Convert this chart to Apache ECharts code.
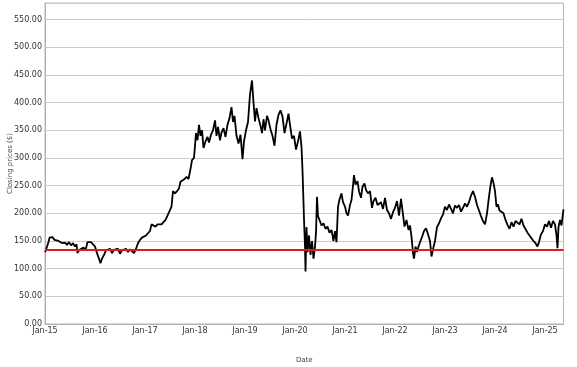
<!DOCTYPE html>
<html>
<head>
<meta charset="utf-8">
<script src="https://cdn.jsdelivr.net/npm/echarts@6/dist/echarts.min.js"></script>
<style>
html,body{margin:0;padding:0;background:#fff;}
#chart{width:577px;height:367px;}
</style>
</head>
<body>
<div id="chart"></div>
<script>
// Dates as decimal years (2015.00 = Jan 2015)
const dateYears = [
2015.00,2015.02,2015.04,2015.07,2015.09,2015.12,2015.15,2015.19,2015.23,2015.27,2015.31,2015.35,2015.40,2015.44,2015.48,2015.52,2015.56,2015.60,2015.63,2015.65,2015.69,2015.73,2015.77,2015.81,2015.85,2015.88,2015.92,2015.96,
2016.00,2016.04,2016.08,2016.11,2016.14,2016.18,2016.22,2016.26,2016.30,2016.34,2016.38,2016.42,2016.46,2016.50,2016.54,2016.58,2016.62,2016.66,2016.70,2016.74,2016.78,2016.82,2016.86,2016.90,2016.94,2016.98,
2017.02,2017.06,2017.10,2017.13,2017.17,2017.21,2017.25,2017.29,2017.33,2017.37,2017.41,2017.45,2017.49,2017.53,2017.56,2017.60,2017.64,2017.68,2017.71,2017.75,2017.79,2017.83,2017.87,2017.91,2017.94,2017.98,
2018.02,2018.05,2018.08,2018.11,2018.14,2018.17,2018.21,2018.25,2018.28,2018.32,2018.36,2018.40,2018.43,2018.46,2018.50,2018.53,2018.57,2018.61,2018.65,2018.69,2018.73,2018.76,2018.79,2018.83,2018.87,2018.91,2018.95,2018.98,
2019.02,2019.06,2019.10,2019.14,2019.17,2019.20,2019.23,2019.27,2019.31,2019.34,2019.37,2019.40,2019.44,2019.47,2019.51,2019.55,2019.59,2019.63,2019.67,2019.71,2019.75,2019.79,2019.83,2019.87,2019.90,2019.94,2019.98,
2020.02,2020.06,2020.10,2020.13,2020.15,2020.18,2020.20,2020.21,2020.23,2020.25,2020.28,2020.31,2020.34,2020.37,2020.40,2020.42,2020.44,2020.46,2020.49,2020.53,2020.57,2020.61,2020.65,2020.69,2020.73,2020.77,2020.80,2020.83,2020.86,2020.89,2020.93,2020.96,
2021.00,2021.03,2021.06,2021.10,2021.13,2021.16,2021.18,2021.21,2021.25,2021.28,2021.32,2021.35,2021.39,2021.42,2021.46,2021.50,2021.54,2021.57,2021.61,2021.65,2021.69,2021.72,2021.76,2021.80,2021.84,2021.88,2021.92,2021.96,
2022.00,2022.04,2022.08,2022.12,2022.15,2022.19,2022.23,2022.27,2022.30,2022.33,2022.36,2022.38,2022.41,2022.44,2022.47,2022.51,2022.55,2022.58,2022.62,2022.66,2022.70,2022.73,2022.76,2022.80,2022.84,2022.88,2022.92,2022.96,
2023.00,2023.04,2023.08,2023.12,2023.16,2023.20,2023.24,2023.28,2023.32,2023.36,2023.40,2023.44,2023.48,2023.52,2023.56,2023.60,2023.64,2023.68,2023.72,2023.76,2023.80,2023.84,2023.88,2023.91,2023.94,2023.97,
2024.00,2024.03,2024.06,2024.09,2024.13,2024.17,2024.21,2024.25,2024.29,2024.33,2024.37,2024.41,2024.45,2024.49,2024.53,2024.57,2024.61,2024.65,2024.69,2024.73,2024.77,2024.81,2024.85,2024.88,2024.92,2024.96,
2025.00,2025.04,2025.08,2025.12,2025.16,2025.20,2025.23,2025.25,2025.27,2025.30,2025.33,2025.36,2025.37
];
const closes = [
130,134,133,148,156,154,157,152,155,150,153,146,147,143,148,142,146,140,144,128,134,131,138,133,148,150,148,147,
140,128,118,110,118,125,133,130,136,128,134,131,136,127,133,131,136,130,135,133,128,136,146,152,156,157,
160,162,168,180,182,176,180,178,180,184,188,196,204,212,240,236,240,245,257,260,262,266,262,280,296,300,
345,332,360,340,350,318,330,338,328,342,350,368,340,356,332,346,354,338,360,372,392,365,376,340,326,342,298,330,
350,365,415,440,400,366,390,372,358,345,370,350,376,368,352,340,322,360,378,386,375,345,362,380,360,335,340,
315,330,348,320,278,190,140,95,175,130,160,125,150,118,140,165,230,195,188,178,182,172,176,165,170,150,168,148,212,225,236,220,
212,200,196,215,224,250,269,252,258,240,228,248,254,242,236,240,210,222,228,215,212,220,208,228,206,200,190,202,
210,222,196,226,205,176,188,170,178,158,128,118,140,130,140,142,160,168,173,162,150,122,135,150,175,182,191,198,
212,206,216,218,200,214,210,215,203,210,218,212,220,232,240,230,215,205,195,186,180,200,230,250,265,255,
240,212,216,205,208,200,188,179,172,184,176,186,188,180,190,178,181,165,160,155,150,146,140,148,162,168,
180,176,186,174,186,180,160,137,175,188,178,200,207
];
const referenceLevel = 135;
const yTickLabels = ['0.00','50.00','100.00','150.00','200.00','250.00','300.00','350.00','400.00','450.00','500.00','550.00'];

const chart = echarts.init(document.getElementById('chart'), null, {renderer:'canvas'});
const font = 'DejaVu Sans';
chart.setOption({
  animation:false,
  backgroundColor:'#ffffff',
  grid:{left:45,right:13.5,top:3,bottom:43,containLabel:false,outerBoundsMode:'none',show:true,borderColor:'#b8b8b8',borderWidth:1,backgroundColor:'transparent'},
  xAxis:{
    type:'value',min:2015,max:2025.37,interval:1,
    name:'Date',nameLocation:'middle',nameGap:33,nameMoveOverlap:false,
    nameTextStyle:{fontFamily:font,fontSize:7,color:'#444'},
    axisLine:{show:true,lineStyle:{color:'#b0b0b0',width:1}},
    axisTick:{show:false},
    splitLine:{show:false},
    axisLabel:{fontFamily:font,fontSize:8,color:'#333',margin:3,showMaxLabel:false,
      formatter:function(v){ if(Math.abs(v-Math.round(v))>1e-6) return ''; return 'Jan-'+String(Math.round(v)).slice(2);} }
  },
  yAxis:{
    type:'value',min:0,max:580,interval:50,
    name:'Closing prices ($)',nameLocation:'middle',nameGap:31,nameRotate:90,nameMoveOverlap:false,
    nameTextStyle:{fontFamily:font,fontSize:7,color:'#444'},
    axisLine:{show:true,lineStyle:{color:'#b0b0b0',width:1}},
    axisTick:{show:false},
    splitLine:{show:true,lineStyle:{color:'#cccccc',width:1}},
    axisLabel:{fontFamily:font,fontSize:8,color:'#333',margin:3,
      formatter:function(v){ const i=Math.round(v/50); if(Math.abs(v-i*50)>1e-6||i>=yTickLabels.length) return ''; return yTickLabels[i];} }
  },
  series:[{
    type:'line',
    data:dateYears.map((d,i)=>[d,closes[i]]),
    showSymbol:false,
    lineStyle:{color:'#000',width:1.8},
    itemStyle:{color:'#000'},
    markLine:{
      silent:true,symbol:['none','none'],label:{show:false},
      lineStyle:{color:'#e41a1a',width:2,type:'solid'},
      data:[{yAxis:referenceLevel}]
    },
    z:3
  }]
});
</script>
</body>
</html>
